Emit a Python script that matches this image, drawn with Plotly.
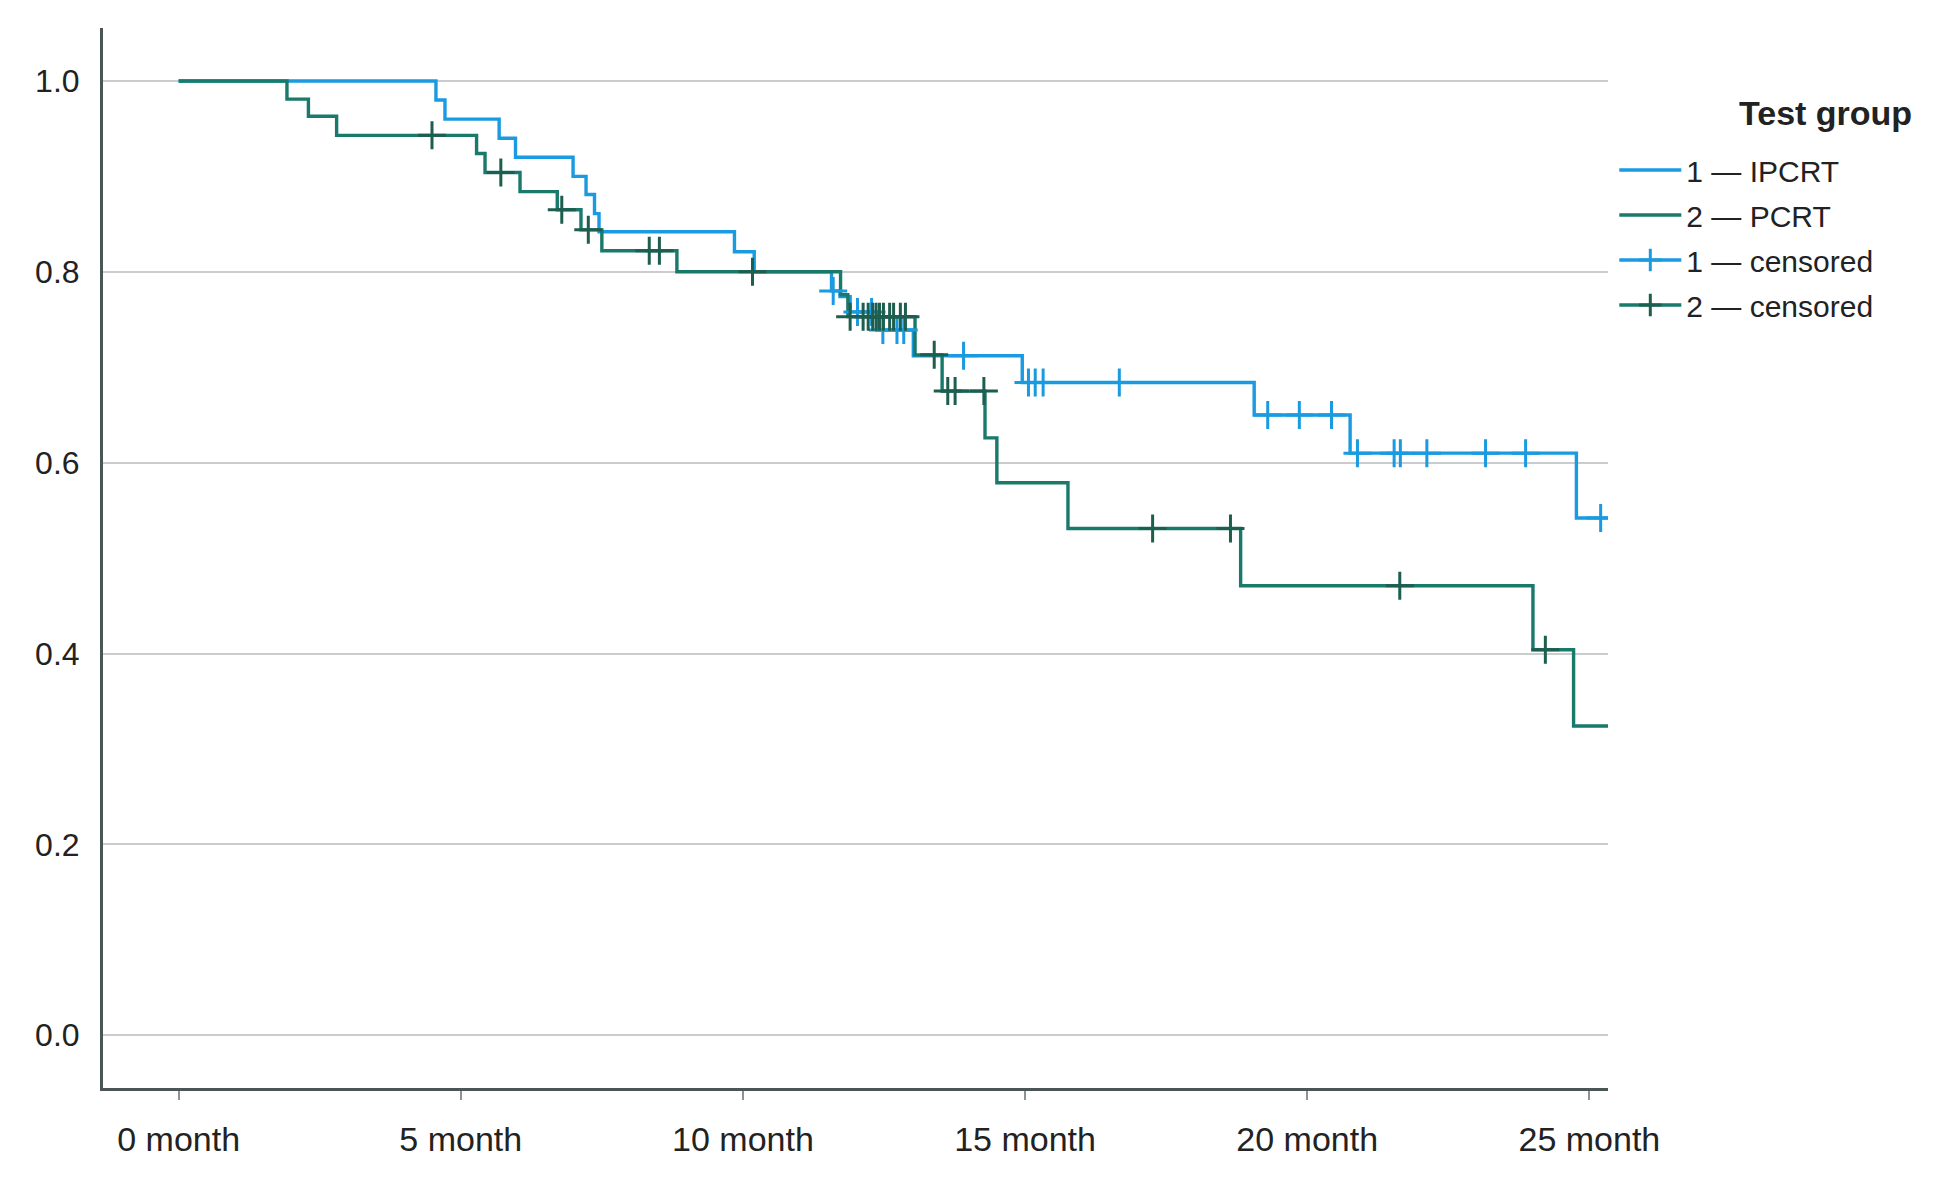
import numpy as np
import plotly.graph_objects as go

# ---- data (Kaplan-Meier curves) ----
ipcrt_times = [0, 4.56, 4.72, 5.68, 5.97, 6.99, 7.22, 7.37, 7.45, 9.85, 10.20,
               11.57, 11.72, 11.90, 12.37, 13.02, 14.95, 19.06, 20.76, 24.77, 25.35]
ipcrt_surv = [1.0, 0.980, 0.960, 0.940, 0.920, 0.900, 0.881, 0.861, 0.842, 0.821, 0.800,
              0.780, 0.774, 0.758, 0.739, 0.712, 0.684, 0.650, 0.610, 0.542, 0.542]
ipcrt_censored = [11.60, 12.03, 12.28, 12.48, 12.73, 12.85, 13.91, 15.06, 15.18, 15.32,
                  16.67, 19.30, 19.86, 20.43, 20.89, 21.54, 21.65, 22.12, 23.16, 23.87, 25.20]

pcrt_times = [0, 1.92, 2.30, 2.80, 5.28, 5.43, 6.05, 6.71, 7.13, 7.50, 8.83, 11.73, 11.86,
              13.05, 13.53, 14.29, 14.50, 15.76, 18.82, 24.00, 24.72, 25.33]
pcrt_surv = [1.0, 0.981, 0.963, 0.943, 0.924, 0.904, 0.884, 0.865, 0.844, 0.822, 0.800, 0.776,
             0.753, 0.713, 0.675, 0.626, 0.579, 0.531, 0.471, 0.404, 0.324, 0.324]
pcrt_censored = [4.49, 5.71, 6.79, 7.26, 8.34, 8.52, 10.17, 11.90, 12.13, 12.22, 12.30, 12.36,
                 12.42, 12.49, 12.60, 12.67, 12.79, 12.88, 13.39, 13.63, 13.76, 14.27, 17.26,
                 18.64, 21.64, 24.22]

x_tick_vals = [0, 5, 10, 15, 20, 25]
x_tick_text = ["0 month", "5 month", "10 month", "15 month", "20 month", "25 month"]
y_tick_vals = [0.0, 0.2, 0.4, 0.6, 0.8, 1.0]

series_names = ["1 \u2014 IPCRT", "2 \u2014 PCRT", "1 \u2014 censored", "2 \u2014 censored"]
legend_title = "Test group"

BLUE = "#1a9ae0"
GREEN = "#197a6b"
GREEN_MARK = "#1d5e4f"
FONT = "Liberation Sans, Arial, sans-serif"


def step_value(times, surv, t):
    idx = np.searchsorted(np.asarray(times), t, side="right") - 1
    return float(np.asarray(surv)[idx])


def censor_xy(ctimes, times, surv):
    xs, ys = [], []
    for t in ctimes:
        xs += [t, None]
        ys += [step_value(times, surv, t), None]
    return xs, ys


fig = go.Figure()
fig.add_trace(go.Scatter(x=ipcrt_times, y=ipcrt_surv, mode="lines", line_shape="hv",
                         line=dict(color=BLUE, width=3.4), name=series_names[0],
                         legendgroup="a"))
fig.add_trace(go.Scatter(x=pcrt_times, y=pcrt_surv, mode="lines", line_shape="hv",
                         line=dict(color=GREEN, width=3.4), name=series_names[1],
                         legendgroup="b"))
bx, by = censor_xy(ipcrt_censored, ipcrt_times, ipcrt_surv)
fig.add_trace(go.Scatter(x=bx, y=by, mode="lines+markers", connectgaps=False,
                         line=dict(color=BLUE, width=3.4),
                         marker=dict(symbol="cross-thin", size=20, color=BLUE,
                                     line=dict(color=BLUE, width=3)),
                         name=series_names[2], legendgroup="c"))
gx, gy = censor_xy(pcrt_censored, pcrt_times, pcrt_surv)
fig.add_trace(go.Scatter(x=gx, y=gy, mode="lines+markers", connectgaps=False,
                         line=dict(color=GREEN, width=3.4),
                         marker=dict(symbol="cross-thin", size=20, color=GREEN_MARK,
                                     line=dict(color=GREEN_MARK, width=3)),
                         name=series_names[3], legendgroup="d"))

W, H = 1941, 1166
L, T = 94.7, 20
PW, PH = 1505, 1060.3

fig.update_layout(
    width=W, height=H,
    margin=dict(l=L, t=T, r=W - L - PW, b=H - T - PH, pad=0, autoexpand=False),
    paper_bgcolor="white", plot_bgcolor="white",
    font=dict(family=FONT, size=30, color="#222222"),
    showlegend=True,
    legend=dict(x=(1606 - L) / PW, xanchor="left", y=1 - (136 - T) / PH, yanchor="top",
                traceorder="grouped", tracegroupgap=3, itemwidth=62,
                font=dict(size=30, color="#222222"), bgcolor="rgba(0,0,0,0)"),
    annotations=[dict(text="<b>" + legend_title + "</b>", xref="paper", yref="paper",
                      x=(1817 - L) / PW, y=1 - (105 - T) / PH, xanchor="center",
                      yanchor="middle", showarrow=False,
                      font=dict(size=34, color="#222222", family=FONT))],
)
fig.update_xaxes(range=[-1.34, 25.33], tickvals=x_tick_vals, ticktext=x_tick_text,
                 showgrid=False, zeroline=False, showline=True, linecolor="#4b5555",
                 linewidth=3, ticks="outside", ticklen=9, tickwidth=2, tickcolor="#8a9494",
                 ticklabelstandoff=10, tickfont=dict(size=34, color="#222222"))
fig.update_yaxes(range=[-0.0553, 1.0555], tickvals=y_tick_vals, tickformat=".1f",
                 showgrid=True, gridcolor="#c9cdcd", gridwidth=2, zeroline=False,
                 showline=True, linecolor="#4b5555", linewidth=3, ticks="",
                 ticklabelstandoff=14, tickfont=dict(size=32, color="#222222"))

fig.write_html("out.html")
